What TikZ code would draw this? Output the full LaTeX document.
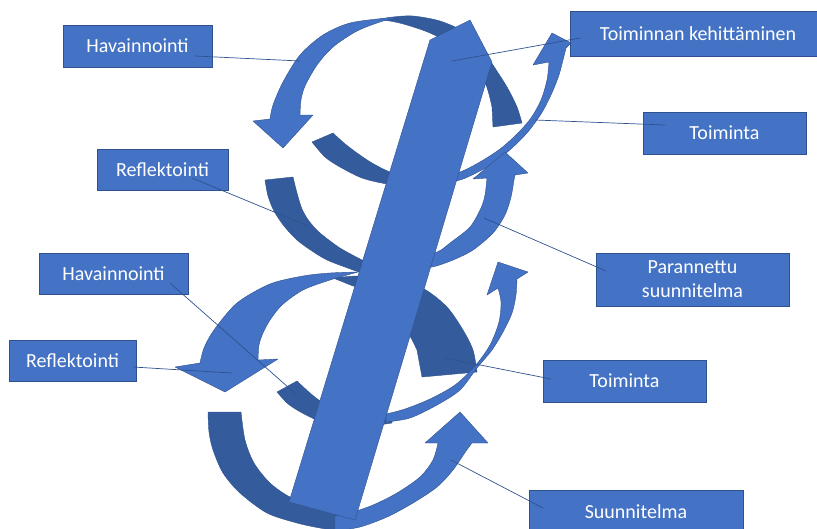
\documentclass[tikz,border=0pt]{standalone}
\usepackage{fontspec}
\setmainfont{Carlito}
\usepackage{tikz}
\usetikzlibrary{positioning}
\definecolor{frontblue}{HTML}{4472C4}
\definecolor{backblue}{HTML}{345C9C}
\definecolor{edgeblue}{HTML}{2F528F}

\begin{document}
\begin{tikzpicture}[x=1pt, y=-1pt,
      front/.style={fill=frontblue, draw=edgeblue, line width=0.4pt, line join=round},
      back/.style={fill=backblue, draw=edgeblue, line width=0.4pt, line join=round},
      box/.style={fill=frontblue, draw=edgeblue, line width=0.6pt, text=white, font=\fontsize{20}{24}\selectfont},
      leader/.style={draw=edgeblue, line width=0.7pt}]
      \useasboundingbox (0,0) rectangle (817,528);
      % upper loop
      \filldraw[back] plot[smooth] coordinates {(375,20) (393,17) (413,16) (440,21) (465,32) (480,45) (493,65) (507,87) (517,107) (522,123)}
            -- (493,127) -- plot[smooth] coordinates {(492,107) (486,85) (472,62) (452,45) (430,33) (407,25) (390,21) (375,20)} -- cycle;
      \filldraw[front] plot[smooth] coordinates {(398,18) (387,18) (350,23) (323,35) (300,55) (283,82) (273,105) (270,119)}
            -- (253,121) -- (283,148) -- (313,115) -- plot[smooth] coordinates {(300,115) (301,100) (305,86) (317,65) (333,47) (357,31) (383,21) (398,18)} -- cycle;
      \filldraw[back] plot[smooth] coordinates {(312,142) (325,157) (340,167) (362,178) (387,184) (410,186) (432,185)}
            -- (432,176) -- plot[smooth] coordinates {(410,177) (390,172) (372,163) (357,153) (344,143) (333,133)} -- cycle;
      \filldraw[front] plot[smooth] coordinates {(438,183) (460,180) (478,172) (495,162) (512,148) (527,133) (541,114) (551,95) (559,75) (564,56) (566,48)}
            -- (571,43) -- (552,33) -- (533,65) -- plot[smooth] coordinates {(549,62) (547,80) (541,100) (531,118) (517,134) (500,149) (480,162) (460,172) (438,177)} -- cycle;
      % middle loop
      \filldraw[back] plot[smooth] coordinates {(265,180) (268,196) (274,211) (284,226) (297,240) (312,251) (327,260) (345,267) (362,273) (380,277)}
            -- (380,264) -- plot[smooth] coordinates {(362,260) (340,248) (320,233) (309,221) (302,209) (297,193) (293,177)} -- cycle;
      \filldraw[front] plot[smooth] coordinates {(410,268) (432,267) (453,260) (473,250) (493,233) (505,215) (511,197) (514,180) (515,175)}
            -- (528,173) -- (505,152) -- (473,179) -- plot[smooth] coordinates {(487,178) (485,195) (481,208) (470,227) (450,243) (437,252) (410,258)} -- cycle;
      \filldraw[back] plot[smooth] coordinates {(333,278) (360,276) (395,280) (424,289) (447,307) (463,330) (473,350) (477,372)}
            -- (422,377) -- plot[smooth] coordinates {(417,350) (410,336) (395,312) (372,294) (348,284) (333,278)} -- cycle;
      \filldraw[front] plot[smooth] coordinates {(358,272) (330,273) (303,276) (270,284) (237,303) (214,330) (204,348) (200,363)}
            -- (175,367) -- (225,392) -- (278,359) -- plot[smooth] coordinates {(258,360) (259,345) (263,333) (270,320) (282,305) (303,290) (330,280) (358,272)} -- cycle;
      % lower loop
      \filldraw[back] plot[smooth] coordinates {(277,392) (287,403) (297,410) (310,417) (322,422) (345,427) (370,426) (392,423)}
            -- (392,414) -- plot[smooth] coordinates {(370,416) (345,413) (322,402) (310,393) (297,381)} -- cycle;
      \filldraw[front] plot[smooth] coordinates {(386,422) (410,418) (437,405) (460,390) (477,368) (492,350) (503,332) (512,313) (516,295) (517,279)}
            -- (528,272) -- (498,262) -- (487,295) -- plot[smooth] coordinates {(498,288) (501,302) (499,322) (490,345) (475,366) (455,385) (430,399) (405,409) (386,414)} -- cycle;
      \filldraw[back] plot[smooth] coordinates {(208,412) (209,432) (213,450) (223,473) (240,493) (267,513) (297,523) (320,528) (340,531)}
            -- (340,516) -- plot[smooth] coordinates {(315,506) (290,497) (270,483) (254,463) (245,440) (241,412)} -- cycle;
      \filldraw[front] plot[smooth] coordinates {(335,531) (360,527) (387,517) (413,503) (437,487) (453,470) (466,451) (472,443)}
            -- (488,443) -- (460,412) -- (425,443) -- plot[smooth] coordinates {(438,443) (433,460) (420,477) (397,493) (373,505) (353,512) (335,516)} -- cycle;
      % the bar
      \filldraw[front] (289,502) -- (355,520) -- (492,62) -- (470,20) -- (430,40) -- cycle;
      \draw[box] (63,25) rectangle (212,67) node (hav1) [pos=.5] {Havainnointi}
            (97,149) rectangle (228,190) node (ref1) [pos=.5] {Reflektointi}
            (39,253) rectangle (188,294) node (hav2) [pos=.5] {Havainnointi}
            (9,340) rectangle (136,381) node (ref2) [pos=.5] {Reflektointi}
            (570,11) rectangle (826,56) node (kehit) [pos=.5] {Toiminnan kehittäminen}
            (643,112) rectangle (806,154) node (toim1) [pos=.5] {Toiminta}
            (596,253) rectangle (789,306) node (paran) [pos=.5, align=center] {Parannettu\\suunnitelma}
            (543,360) rectangle (706,402) node (toim2) [pos=.5] {Toiminta}
            (529,490) rectangle (743,534) node (suun) [pos=.5] {Suunnitelma};
      \path (195,56) coordinate (hav1in) (300,61) coordinate (havU)
            (192,178) coordinate (ref1in) (308,226) coordinate (refU)
            (170,283) coordinate (hav2in) (297,395) coordinate (havL)
            (133,367) coordinate (ref2in) (232,373) coordinate (refL)
            (580,38) coordinate (kehitin) (452,61) coordinate (bartop)
            (665,125) coordinate (toim1in) (535,120) coordinate (toimU)
            (606,271) coordinate (paranin) (484,218) coordinate (paranU)
            (551,379) coordinate (toim2in) (445,358) coordinate (toimL)
            (543,508) coordinate (suunin) (451,460) coordinate (suunL);
      \draw[leader] (hav1in) -- (havU) (ref1in) -- (refU) (hav2in) -- (havL)
                    (ref2in) -- (refL) (kehitin) -- (bartop) (toim1in) -- (toimU)
                    (paranin) -- (paranU) (toim2in) -- (toimL) (suunin) -- (suunL);
\end{tikzpicture}
\end{document}
